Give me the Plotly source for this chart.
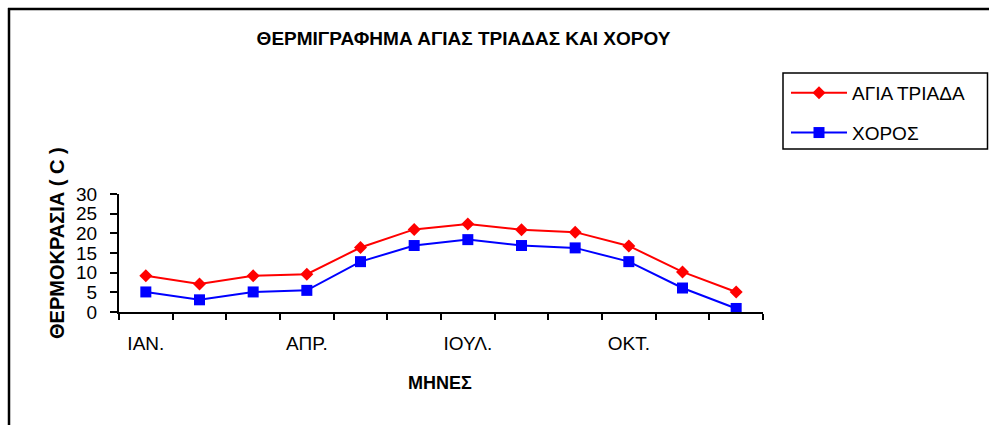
import plotly.graph_objects as go

months = ["ΙΑΝ.", "ΦΕΒ.", "ΜΑΡ.", "ΑΠΡ.", "ΜΑΪ.", "ΙΟΥΝ.",
          "ΙΟΥΛ.", "ΑΥΓ.", "ΣΕΠ.", "ΟΚΤ.", "ΝΟΕ.", "ΔΕΚ."]
agia_triada = [9.2, 7.1, 9.2, 9.6, 16.4, 21.0, 22.4, 20.9, 20.3, 16.8, 10.2, 5.1]
xoros = [5.1, 3.1, 5.1, 5.5, 12.8, 16.9, 18.4, 16.9, 16.3, 12.8, 6.1, 0.9]
name_a = "ΑΓΙΑ ΤΡΙΑΔΑ"
name_b = "ΧΟΡΟΣ"
title_text = "ΘΕΡΜΙΓΡΑΦΗΜΑ ΑΓΙΑΣ ΤΡΙΑΔΑΣ ΚΑΙ ΧΟΡΟΥ"
ytitle = "ΘΕΡΜΟΚΡΑΣΙΑ ( C )"
xtitle = "ΜΗΝΕΣ"

x = list(range(1, len(months) + 1))
label_idx = [0, 3, 6, 9]

FONT = "Liberation Sans, Arial, sans-serif"
OFF = 0  # body margin removed below
W, H = 989 - OFF, 425 - OFF
L, T = 119 - OFF, 194 - OFF
R, B = W - (763 - OFF), H - (312 - OFF)
pw, ph = W - L - R, H - T - B

def px(xr):
    return (xr - OFF - L) / pw

def py(yr):
    return (H - B - (yr - OFF)) / ph

fig = go.Figure()
fig.add_trace(go.Scatter(
    x=x, y=agia_triada, name=name_a, mode="lines+markers", legendgroup="a",
    line=dict(color="#FF0000", width=2),
    marker=dict(symbol="diamond", size=10, color="#FF0000")))
fig.add_trace(go.Scatter(
    x=x, y=xoros, name=name_b, mode="lines+markers", legendgroup="b",
    line=dict(color="#0000FF", width=2),
    marker=dict(symbol="square", size=11, color="#0000FF")))

fig.update_layout(
    width=W, height=H,
    margin=dict(l=L, r=R, t=T, b=B, autoexpand=False),
    paper_bgcolor="white", plot_bgcolor="white",
    font=dict(family=FONT, size=19, color="black"),
    showlegend=True,
    legend=dict(x=px(786), y=py(74), xanchor="left", yanchor="top",
                font=dict(size=19, family=FONT), bgcolor="rgba(0,0,0,0)",
                borderwidth=0, tracegroupgap=12, traceorder="grouped",
                itemwidth=56),
    title=dict(text="<b>" + title_text + "</b>", x=(463.5 - OFF) / W,
               xanchor="center", y=1 - (38 - OFF) / H, yanchor="middle",
               font=dict(size=19, family=FONT, color="black")),
    xaxis=dict(range=[0.5, 12.5], showgrid=False, zeroline=False,
               showline=True, linecolor="black", linewidth=2,
               tickvals=[x[i] for i in label_idx],
               ticktext=[months[i] for i in label_idx],
               ticks="", ticklabelstandoff=13,
               tickfont=dict(size=19, family=FONT),
               minor=dict(tickvals=[v - 0.5 for v in x] + [x[-1] + 0.5],
                          ticks="outside", ticklen=6, tickwidth=2,
                          tickcolor="black", showgrid=False)),
    yaxis=dict(range=[0, 30], dtick=5, showgrid=False, zeroline=False,
               showline=True, linecolor="black", linewidth=2,
               ticks="outside", ticklen=7, tickwidth=2, tickcolor="black",
               ticklabelstandoff=9, tickfont=dict(size=19, family=FONT)),
    annotations=[
        dict(text="<b>" + ytitle + "</b>", xref="paper", yref="paper",
             x=px(57), y=py(243), textangle=-90, showarrow=False,
             xanchor="center", yanchor="middle",
             font=dict(size=20, family=FONT)),
        dict(text="<b>" + xtitle + "</b>", xref="paper", yref="paper",
             x=px(440), y=py(383), showarrow=False,
             xanchor="center", yanchor="middle",
             font=dict(size=18, family=FONT)),
    ],
    shapes=[
        dict(type="line", xref="paper", yref="paper",
             x0=px(9), x1=px(9), y0=py(8), y1=py(430),
             line=dict(color="black", width=2.5)),
        dict(type="line", xref="paper", yref="paper",
             x0=px(8), x1=px(995), y0=py(9), y1=py(9),
             line=dict(color="black", width=2.5)),
        dict(type="rect", xref="paper", yref="paper",
             x0=px(783), x1=px(987.5), y0=py(149), y1=py(73),
             line=dict(color="black", width=1.5)),
    ],
)

fig.write_html(
    "out.html",
    config={"displayModeBar": False},
    post_script="document.body.style.margin='0';"
                "document.body.style.overflow='hidden';",
)
